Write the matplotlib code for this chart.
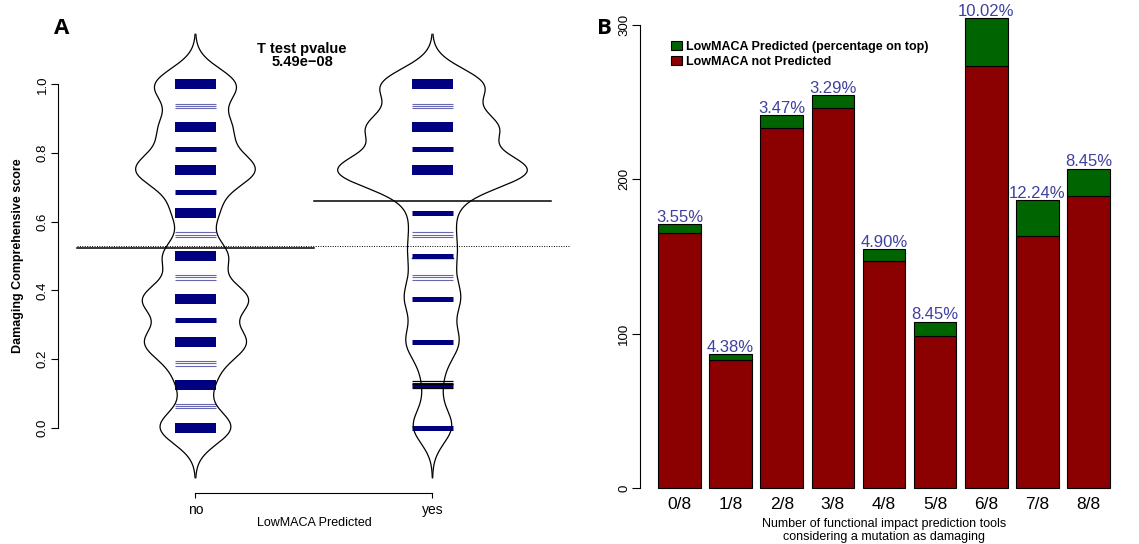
import numpy as np
import matplotlib.pyplot as plt
from matplotlib.patches import Patch

plt.rcParams['font.family'] = ['Liberation Sans', 'DejaVu Sans']

# ---- Panel A: bean plot data ----
scores = np.arange(17) / 16
count_no = np.array([164, 2, 62, 45, 203, 18, 229, 2, 143, 2, 86, 33, 240, 45, 134, 20, 178])
count_yes = np.array([6, 1, 2, 2, 7, 2, 7, 3, 5, 4, 4, 5, 28, 3, 19, 2, 16])
bandwidth = 0.0487

# rug lines: value and weight (2 heavy, 1 medium, 0 light)
rug_no = [1.0, 0.9375, 0.875, 0.8125, 0.75, 0.6875, 0.625, 0.5625, 0.5,
          0.4375, 0.375, 0.3125, 0.25, 0.1875, 0.125, 0.0625, 0.0]
rug_no_w = [2, 0, 2, 1, 2, 1, 2, 0, 2, 0, 2, 1, 2, 0, 2, 0, 2]
rug_yes = [1.0, 0.9375, 0.875, 0.8125, 0.75, 0.625, 0.5625, 0.5, 0.4375,
           0.375, 0.25, 0.125, 0.0]
rug_yes_w = [2, 0, 2, 1, 2, 1, 0, 1, 0, 1, 1, 1, 1]
rug_yes_black = [0.137, 0.126, 0.114]

mean_no = 0.522
mean_yes = 0.660
mean_all = 0.529
groups = ['no', 'yes']
pvalue = '5.49e\u221208'

# ---- Panel B: stacked bars ----
categories = ['0/8', '1/8', '2/8', '3/8', '4/8', '5/8', '6/8', '7/8', '8/8']
not_predicted = [165.0, 82.8, 233.3, 246.2, 147.3, 98.7, 273.6, 163.5, 189.4]
predicted = [6.1, 3.8, 8.4, 8.4, 7.6, 9.1, 30.7, 23.1, 17.6]
pct_labels = ['3.55%', '4.38%', '3.47%', '3.29%', '4.90%', '8.45%', '10.02%', '12.24%', '8.45%']

navy = '#000080'
red = '#8B0000'
green = '#006400'
pct_col = '#4040A0'

fig = plt.figure(figsize=(11.39, 5.44), dpi=100)

# ================= Panel A =================
axA = fig.add_axes([0.0509, 0.0930, 0.4495, 0.8728])
yy = np.linspace(-3 * bandwidth, 1 + 3 * bandwidth, 600)


def density(c):
    k = np.exp(-(yy[:, None] - scores[None, :]) ** 2 / (2 * bandwidth ** 2))
    return (k @ c) / (c.sum() * bandwidth * np.sqrt(2 * np.pi))


dens = [density(count_no), density(count_yes)]
scale = 0.40 / max(d.max() for d in dens)

rug_lw = {2: 7.2, 1: 3.6}
for cx, d, rv, rw in [(1, dens[0], rug_no, rug_no_w), (2, dens[1], rug_yes, rug_yes_w)]:
    for v, w in zip(rv, rw):
        if w == 0:
            for off in (-0.007, 0.0, 0.007):
                axA.plot([cx - 0.085, cx + 0.085], [v + off, v + off], color=navy,
                         lw=0.8, alpha=0.6, solid_capstyle='butt')
        else:
            axA.plot([cx - 0.085, cx + 0.085], [v, v], color=navy,
                     lw=rug_lw[w], solid_capstyle='butt')
    axA.plot(cx - d * scale, yy, color='black', lw=0.9)
    axA.plot(cx + d * scale, yy, color='black', lw=0.9)

for v in rug_yes_black:
    axA.plot([2 - 0.085, 2 + 0.085], [v, v], color='black', lw=0.9, solid_capstyle='butt')
axA.plot([2 - 0.085, 2 + 0.085], [0.493, 0.493], color=navy, lw=1.0)

axA.plot([0.5, 1.5], [mean_no, mean_no], color='black', lw=1.1)
axA.plot([1.5, 2.5], [mean_yes, mean_yes], color='black', lw=1.1)
axA.plot([0.5, 2.58], [mean_all, mean_all], color='black', lw=0.7, ls=(0, (1, 1.5)))

axA.set_xlim(0.42, 2.58)
axA.set_ylim(-0.192, 1.192)
for s in ['top', 'right']:
    axA.spines[s].set_visible(False)
axA.spines['left'].set_bounds(0, 1)
axA.spines['bottom'].set_bounds(1, 2)
axA.spines['left'].set_linewidth(0.8)
axA.spines['bottom'].set_linewidth(0.8)
axA.set_yticks(np.arange(0, 1.01, 0.2))
axA.set_yticklabels([f'{v:.1f}' for v in np.arange(0, 1.01, 0.2)], rotation=90, va='center')
axA.set_xticks([1, 2])
axA.set_xticklabels(groups)
axA.tick_params(axis='y', length=5, width=0.8, pad=1.5, labelsize=9.5)
axA.tick_params(axis='x', length=3.6, width=0.8, pad=3, labelsize=10)
axA.set_ylabel('Damaging Comprehensive score', fontsize=9, fontweight='bold', labelpad=6)
axA.yaxis.set_label_coords(-0.066, (0.5 + 0.192) / 1.384)
axA.annotate('LowMACA Predicted', xy=(0.5, 0), xycoords='axes fraction',
             xytext=(0, -21.3), textcoords='offset points', ha='center', va='center',
             fontsize=9)
axA.text(1.45, 1.104, 'T test pvalue', ha='center', va='center', fontsize=10.5, fontweight='bold')
axA.text(1.45, 1.066, pvalue, ha='center', va='center', fontsize=10.5, fontweight='bold')
fig.text(62 / 1139, 1 - 28 / 544, 'A', fontsize=16, fontweight='bold',
         family=['Open Sans', 'DejaVu Sans'], ha='center', va='center')

# ================= Panel B =================
axB = fig.add_axes([640 / 1139, 1 - 506.8 / 544, 488 / 1139, 506.8 / 544])
xpos = 0.7 + 1.2 * np.arange(len(categories))
axB.bar(xpos, not_predicted, width=1, color=red, edgecolor='black', linewidth=0.8)
axB.bar(xpos, predicted, width=1, bottom=not_predicted, color=green,
        edgecolor='black', linewidth=0.8)
tops = np.array(not_predicted) + np.array(predicted)
for x, t, lab in zip(xpos, tops, pct_labels):
    axB.annotate(lab, xy=(x, t), xytext=(0, 1.6), textcoords='offset points',
                 ha='center', va='baseline', fontsize=12, color=pct_col)
for x, lab in zip(xpos, categories):
    axB.annotate(lab, xy=(x, 0), xytext=(0, -11.9), textcoords='offset points',
                 ha='center', va='center', fontsize=12.5)
axB.annotate('Number of functional impact prediction tools\nconsidering a mutation as damaging',
             xy=(0.5, 0), xycoords='axes fraction', xytext=(0, -17.1),
             textcoords='offset points', ha='center', va='center', fontsize=9, linespacing=1.2)

axB.set_xlim(-0.224, 11.224)
axB.set_ylim(-12.2, 316.2)
for s in ['top', 'right', 'bottom']:
    axB.spines[s].set_visible(False)
axB.spines['left'].set_bounds(0, 300)
axB.spines['left'].set_linewidth(0.8)
axB.set_xticks([])
axB.set_yticks([0, 100, 200, 300])
axB.set_yticklabels(['0', '100', '200', '300'], rotation=90, va='center')
axB.tick_params(axis='y', length=5.5, width=0.8, pad=1.5, labelsize=9.5)

handles = [Patch(facecolor=green, edgecolor='black', linewidth=0.8),
           Patch(facecolor=red, edgecolor='black', linewidth=0.8)]
axB.legend(handles, ['LowMACA Predicted (percentage on top)', 'LowMACA not Predicted'],
           loc='upper left', bbox_to_anchor=(0.063, 0.92), frameon=False,
           prop={'weight': 'bold', 'size': 9}, handlelength=0.9, handleheight=0.75,
           handletextpad=0.3, labelspacing=0.25, borderpad=0, borderaxespad=0)
fig.text(604 / 1139, 1 - 28 / 544, 'B', fontsize=16, fontweight='bold',
         family=['Open Sans', 'DejaVu Sans'], ha='center', va='center')

fig.savefig('out.png')
